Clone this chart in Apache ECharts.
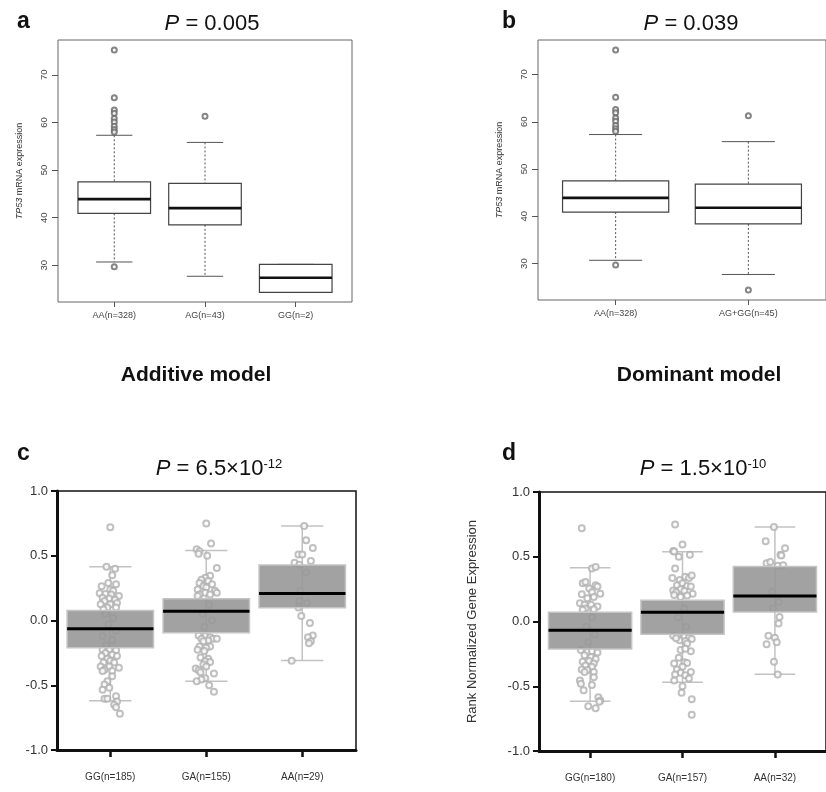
<!DOCTYPE html>
<html>
<head>
<meta charset="utf-8">
<script src="https://cdn.jsdelivr.net/npm/echarts@6/dist/echarts.min.js"></script>
<style>html,body{margin:0;background:#fff}#chart{width:826px;height:792px}</style>
</head>
<body>
<div id="chart"></div>
<script>
// a / b : TP53 mRNA expression, R style boxplots
var catsA = ['AA(n=328)', 'AG(n=43)', 'GG(n=2)'];
var catsB = ['AA(n=328)', 'AG+GG(n=45)'];
// low whisker, Q1, median, Q3, high whisker
var boxesA = [[30.7, 40.9, 43.9, 47.5, 57.3], [27.7, 38.5, 42.0, 47.2, 55.8], [24.3, 24.3, 27.4, 30.2, 30.2]];
var boxesB = [[30.7, 40.9, 43.9, 47.5, 57.3], [27.7, 38.4, 41.8, 46.8, 55.8]];
var outliersA = [[75.2, 65.2, 62.6, 61.9, 60.8, 60.1, 59.2, 58.5, 58.0, 29.7], [61.3], []];
var outliersB = [[75.2, 65.2, 62.6, 61.9, 60.8, 60.1, 59.2, 58.5, 58.0, 29.7], [61.3, 24.4]];
var ticksAB = [30, 40, 50, 60, 70];

// c / d : rank normalized expression, box + jittered points
var catsC = ['GG(n=185)', 'GA(n=155)', 'AA(n=29)'];
var catsD = ['GG(n=180)', 'GA(n=157)', 'AA(n=32)'];
var boxesC = [[-0.619, -0.211, -0.064, 0.077, 0.415], [-0.469, -0.095, 0.072, 0.168, 0.541], [-0.309, 0.098, 0.209, 0.428, 0.73]];
var boxesD = [[-0.616, -0.212, -0.067, 0.072, 0.415], [-0.47, -0.098, 0.072, 0.165, 0.539], [-0.408, 0.074, 0.196, 0.425, 0.73]];
// [jitter from group centre, value]
var pointsC = [
	[[0, 0.72], [-0.04, 0.415], [0.05, 0.40], [0.02, 0.35], [-0.02, 0.29], [0.06, 0.28], [-0.09, 0.265], [0, 0.24], [0.03, 0.23], [-0.11, 0.21], [-0.05, 0.205], [0.01, 0.20], [0.09, 0.19], [-0.08, 0.175], [-0.01, 0.17], [0.05, 0.16], [-0.06, 0.15], [0.07, 0.135], [-0.1, 0.125], [0, 0.125], [-0.03, 0.10], [0.06, 0.10], [-0.07, 0.085],
	 [-0.05, 0.05], [0.03, 0.02], [-0.02, -0.03], [0.06, -0.08], [-0.08, -0.12], [0.02, -0.15], [-0.04, -0.19],
	 [-0.08, -0.225], [-0.01, -0.225], [0.06, -0.23], [-0.05, -0.25], [0.02, -0.265], [-0.09, -0.275], [0.07, -0.275], [-0.03, -0.295], [0, -0.31], [-0.07, -0.325], [0.04, -0.325], [-0.1, -0.355], [-0.01, -0.355], [0.09, -0.365], [-0.06, -0.38], [0.02, -0.39], [-0.08, -0.39], [0.02, -0.43], [-0.03, -0.47], [-0.06, -0.495], [-0.01, -0.52], [-0.08, -0.535], [0.06, -0.585], [-0.06, -0.605], [-0.03, -0.605], [0.07, -0.625], [0.04, -0.65], [0.06, -0.67], [0.1, -0.72]],
	[[0, 0.75], [0.05, 0.595], [-0.1, 0.55], [-0.07, 0.535], [-0.08, 0.515], [0.01, 0.50], [0.11, 0.405], [0.04, 0.345], [-0.01, 0.33], [-0.05, 0.315], [0.02, 0.305], [-0.07, 0.29], [0.06, 0.28], [-0.03, 0.265], [0, 0.255], [-0.09, 0.24], [0.09, 0.23], [-0.01, 0.215], [0.11, 0.215], [0.04, 0.20], [-0.07, 0.20], [-0.09, 0.19],
	 [0.03, 0.12], [-0.04, 0.05], [0.06, 0], [-0.02, -0.05],
	 [-0.08, -0.115], [-0.01, -0.12], [0.04, -0.13], [-0.05, -0.14], [0.07, -0.14], [0.11, -0.14], [0.02, -0.155], [-0.03, -0.16], [-0.07, -0.2], [0.04, -0.2], [0, -0.21], [-0.09, -0.225], [-0.02, -0.235], [-0.06, -0.285], [0.02, -0.295], [-0.01, -0.315], [0.04, -0.32], [-0.03, -0.34], [0, -0.355], [-0.11, -0.37], [-0.08, -0.385], [-0.06, -0.40], [0.08, -0.41], [-0.01, -0.445], [-0.05, -0.455], [-0.1, -0.47], [0.03, -0.50], [0.08, -0.55]],
	[[0.02, 0.73], [0.04, 0.62], [0.11, 0.56], [-0.04, 0.51], [0, 0.51], [0.09, 0.46], [-0.08, 0.445], [-0.03, 0.43], [0.04, 0.37], [-0.02, 0.23], [-0.03, 0.15], [0.05, 0.135], [-0.04, 0.10], [-0.01, 0.035], [0.08, -0.02], [0.11, -0.115], [0.06, -0.13], [0.09, -0.16], [0.07, -0.175], [-0.11, -0.31]]
];
var pointsD = [
	[[-0.09, 0.72], [0.02, 0.41], [0.06, 0.42], [-0.08, 0.295], [-0.05, 0.305], [0.06, 0.28], [-0.01, 0.255], [0.08, 0.27], [0.02, 0.225], [0.11, 0.215], [-0.09, 0.21], [0.04, 0.19], [-0.03, 0.18], [-0.11, 0.14], [-0.06, 0.13], [0.01, 0.13], [0.08, 0.115], [-0.05, 0.10], [0.04, 0.095], [-0.08, 0.09],
	 [0.02, 0.03], [-0.04, -0.04], [0.05, -0.1], [-0.02, -0.16],
	 [-0.1, -0.22], [-0.03, -0.235], [0.02, -0.23], [0.08, -0.24], [-0.06, -0.26], [0.01, -0.275], [0.06, -0.29], [-0.08, -0.31], [-0.01, -0.305], [0.04, -0.325], [-0.05, -0.34], [0.02, -0.35], [-0.09, -0.37], [-0.03, -0.375], [0.04, -0.39], [-0.06, -0.39], [0.04, -0.43], [-0.11, -0.455], [-0.1, -0.48], [0.02, -0.49], [-0.07, -0.53], [0.09, -0.585], [0.11, -0.61], [0.1, -0.62], [-0.02, -0.655], [0.06, -0.67]],
	[[-0.08, 0.75], [0, 0.595], [-0.1, 0.545], [-0.09, 0.54], [-0.04, 0.50], [0.08, 0.515], [-0.08, 0.41], [-0.11, 0.335], [-0.03, 0.32], [0.03, 0.345], [0.07, 0.335], [0.1, 0.355], [-0.06, 0.28], [0, 0.295], [0.05, 0.275], [-0.1, 0.24], [-0.02, 0.25], [0.09, 0.27], [-0.07, 0.225], [0.02, 0.235], [0.11, 0.215], [-0.09, 0.205], [-0.02, 0.19], [0.05, 0.20],
	 [0.02, 0.1], [-0.05, 0.03], [0.04, -0.04],
	 [-0.1, -0.11], [-0.05, -0.12], [0.02, -0.12], [0.07, -0.125], [-0.03, -0.145], [0.03, -0.15], [-0.07, -0.13], [0.1, -0.135], [0.05, -0.17], [-0.02, -0.22], [0.09, -0.23], [0.03, -0.21], [-0.04, -0.28], [0.02, -0.315], [0.05, -0.32], [-0.09, -0.325], [0, -0.35], [-0.06, -0.37], [0.09, -0.39], [-0.02, -0.395], [-0.08, -0.41], [0.03, -0.415], [0.07, -0.44], [-0.09, -0.455], [0, -0.50], [-0.01, -0.55], [0.1, -0.60], [0.1, -0.72]],
	[[-0.01, 0.73], [-0.1, 0.62], [0.11, 0.565], [0.06, 0.515], [0.07, 0.51], [-0.09, 0.45], [-0.05, 0.46], [0.03, 0.43], [0.09, 0.435], [-0.03, 0.23], [0.04, 0.15], [-0.02, 0.1], [0.05, 0.035], [0.04, -0.015], [-0.07, -0.11], [0, -0.125], [0.02, -0.16], [-0.09, -0.175], [-0.01, -0.31], [0.03, -0.41]]
];
var ticksCD = [-1, -0.5, 0, 0.5, 1];

var FONT = 'Liberation Sans, Arial, sans-serif';

function boxRows(boxes) {
	return boxes.map(function (b, k) { return [k + 1].concat(b); });
}

function pick(api) {
	var x = api.value(0);
	var p = [];
	for (var i = 1; i <= 5; i++) p.push(api.coord([x, api.value(i)]));
	return p; // lo, q1, med, q3, hi
}

// R boxplot: dashed whiskers, white box, thick median
function renderR(params, api) {
	var p = pick(api);
	var cx = p[0][0];
	var hw = api.size([0.4, 0])[0], cw = api.size([0.2, 0])[0];
	var dash = {stroke: '#555', lineWidth: 1, lineDash: [2, 2]};
	var solid = {stroke: '#555', lineWidth: 1};
	return {type: 'group', children: [
		{type: 'line', shape: {x1: cx, y1: p[4][1], x2: cx, y2: p[3][1]}, style: dash},
		{type: 'line', shape: {x1: cx, y1: p[1][1], x2: cx, y2: p[0][1]}, style: dash},
		{type: 'line', shape: {x1: cx - cw, y1: p[4][1], x2: cx + cw, y2: p[4][1]}, style: solid},
		{type: 'line', shape: {x1: cx - cw, y1: p[0][1], x2: cx + cw, y2: p[0][1]}, style: solid},
		{type: 'rect', shape: {x: cx - hw, y: p[3][1], width: 2 * hw, height: p[1][1] - p[3][1]}, style: {fill: '#fff', stroke: '#444', lineWidth: 1.2}},
		{type: 'line', shape: {x1: cx - hw, y1: p[2][1], x2: cx + hw, y2: p[2][1]}, style: {stroke: '#111', lineWidth: 2.6}}
	]};
}

// GraphPad style: whisker line + caps (under the points)
function renderWhisk(params, api) {
	var p = pick(api);
	var cx = p[0][0];
	var cw = api.size([0.22, 0])[0];
	var st = {stroke: '#c2c2c2', lineWidth: 1.5};
	return {type: 'group', children: [
		{type: 'line', shape: {x1: cx, y1: p[4][1], x2: cx, y2: p[0][1]}, style: st},
		{type: 'line', shape: {x1: cx - cw, y1: p[4][1], x2: cx + cw, y2: p[4][1]}, style: st},
		{type: 'line', shape: {x1: cx - cw, y1: p[0][1], x2: cx + cw, y2: p[0][1]}, style: st}
	]};
}

// grey box and black median (over the points)
function renderGreyBox(params, api) {
	var p = pick(api);
	var cx = p[0][0];
	var hw = api.size([0.45, 0])[0];
	return {type: 'group', children: [
		{type: 'rect', shape: {x: cx - hw, y: p[3][1], width: 2 * hw, height: p[1][1] - p[3][1]}, style: {fill: 'rgba(152,152,152,0.9)', stroke: '#c4c4c4', lineWidth: 1.5}},
		{type: 'line', shape: {x1: cx - hw, y1: p[2][1], x2: cx + hw, y2: p[2][1]}, style: {stroke: '#000', lineWidth: 3}}
	]};
}

function outlierData(list) {
	var out = [];
	list.forEach(function (vals, k) {
		vals.forEach(function (v) { out.push([k + 1, v]); });
	});
	return out;
}

function jitterData(groups) {
	var out = [];
	groups.forEach(function (pts, k) {
		pts.forEach(function (p) { out.push([k + 1 + p[0], p[1]]); });
	});
	return out;
}

function xAxisR(i, cats, min, max) {
	var idx = cats.map(function (c, k) { return k + 1; });
	return {
		gridIndex: i, type: 'value', min: min, max: max,
		axisLine: {show: false},
		splitLine: {show: false},
		axisTick: {customValues: idx, length: 5, lineStyle: {color: '#555'}},
		axisLabel: {customValues: idx, fontSize: 9, color: '#444', margin: 9, fontFamily: FONT,
			formatter: function (v) { return cats[Math.round(v) - 1]; }}
	};
}

function yAxisR(i) {
	return {
		gridIndex: i, type: 'value', min: 22.3, max: 77.3,
		axisLine: {show: false},
		splitLine: {show: false},
		axisTick: {customValues: ticksAB, length: 6, lineStyle: {color: '#555'}},
		axisLabel: {customValues: ticksAB, rotate: 90, fontSize: 9.5, color: '#444', margin: 9, fontFamily: FONT},
		name: '{i|TP53} mRNA expression', nameLocation: 'middle', nameGap: 34,
		nameTextStyle: {fontSize: 9, color: '#333', fontFamily: FONT, rich: {i: {fontStyle: 'italic', fontSize: 9, color: '#333', fontFamily: FONT}}}
	};
}

function xAxisG(i, cats, min, max) {
	var idx = cats.map(function (c, k) { return k + 1; });
	return {
		gridIndex: i, type: 'value', min: min, max: max,
		axisLine: {show: true, onZero: false, lineStyle: {color: '#111', width: 3}},
		splitLine: {show: false},
		axisTick: {customValues: idx, length: 7, lineStyle: {color: '#111', width: 2.5}},
		axisLabel: {customValues: idx, fontSize: 10, color: '#333', margin: 22, fontFamily: FONT,
			formatter: function (v) { return cats[Math.round(v) - 1]; }}
	};
}

function yAxisG(i, withName) {
	var ax = {
		gridIndex: i, type: 'value', min: -1, max: 1, interval: 0.5,
		axisLine: {show: true, onZero: false, lineStyle: {color: '#111', width: 3}},
		splitLine: {show: false},
		axisTick: {show: true, length: 6, lineStyle: {color: '#111', width: 2}},
		axisLabel: {fontSize: 13, color: '#333', margin: 9, fontFamily: FONT,
			formatter: function (v) { return v.toFixed(1); }}
	};
	if (withName) {
		ax.name = 'Rank Normalized Gene Expression';
		ax.nameLocation = 'middle';
		ax.nameGap = 60;
		ax.nameTextStyle = {fontSize: 13, color: '#333', fontFamily: FONT};
	}
	return ax;
}

var pStyle = {fontSize: 22, fontWeight: 'normal', color: '#111', fontFamily: FONT,
	rich: {
		i: {fontStyle: 'italic', fontSize: 22, color: '#111', fontFamily: FONT},
		s: {fontSize: 13, color: '#111', verticalAlign: 'top', fontFamily: FONT}
	}};
var letter = {fontSize: 23, fontWeight: 'bold', color: '#111', fontFamily: FONT};
var model = {fontSize: 21, fontWeight: 'bold', color: '#111', fontFamily: FONT};

var myChart = echarts.init(document.getElementById('chart'));
var option = {
	animation: false,
	backgroundColor: '#fff',
	textStyle: {fontFamily: FONT},
	title: [
		{text: 'a', left: 12, top: 5, textStyle: letter},
		{text: 'b', left: 497, top: 5, textStyle: letter},
		{text: 'c', left: 12, top: 437, textStyle: letter},
		{text: 'd', left: 497, top: 437, textStyle: letter},
		{text: '{i|P} = 0.005', left: 207, top: 8, textAlign: 'center', textStyle: pStyle},
		{text: '{i|P} = 0.039', left: 686, top: 8, textAlign: 'center', textStyle: pStyle},
		{text: '{i|P} = 6.5×10{s|-12}', left: 214, top: 453, textAlign: 'center', textStyle: pStyle},
		{text: '{i|P} = 1.5×10{s|-10}', left: 698, top: 453, textAlign: 'center', textStyle: pStyle},
		{text: 'Additive model', left: 191, top: 360, textAlign: 'center', textStyle: model},
		{text: 'Dominant model', left: 694, top: 360, textAlign: 'center', textStyle: model}
	],
	grid: [
		{left: 58, top: 40, width: 294, height: 262, show: true, borderColor: '#666', borderWidth: 1},
		{left: 538, top: 40, width: 293, height: 260, show: true, borderColor: '#666', borderWidth: 1},
		{left: 57, top: 491, width: 299, height: 259, show: true, borderColor: '#111', borderWidth: 1.5},
		{left: 539, top: 492, width: 300, height: 259, show: true, borderColor: '#111', borderWidth: 1.5}
	],
	xAxis: [
		xAxisR(0, catsA, 0.38, 3.62),
		xAxisR(1, catsB, 0.415, 2.585),
		xAxisG(2, catsC, 0.445, 3.56),
		xAxisG(3, catsD, 0.447, 3.553)
	],
	yAxis: [yAxisR(0), yAxisR(1), yAxisG(2, false), yAxisG(3, true)],
	series: [
		{type: 'custom', xAxisIndex: 0, yAxisIndex: 0, renderItem: renderR, data: boxRows(boxesA), encode: {x: 0, y: [1, 2, 3, 4, 5]}, z: 2},
		{type: 'custom', xAxisIndex: 1, yAxisIndex: 1, renderItem: renderR, data: boxRows(boxesB), encode: {x: 0, y: [1, 2, 3, 4, 5]}, z: 2},
		{type: 'scatter', xAxisIndex: 0, yAxisIndex: 0, data: outlierData(outliersA), symbol: 'emptyCircle', symbolSize: 5, itemStyle: {color: '#666', borderWidth: 0.8}, z: 3},
		{type: 'scatter', xAxisIndex: 1, yAxisIndex: 1, data: outlierData(outliersB), symbol: 'emptyCircle', symbolSize: 5, itemStyle: {color: '#666', borderWidth: 0.8}, z: 3},

		{type: 'custom', xAxisIndex: 2, yAxisIndex: 2, renderItem: renderWhisk, data: boxRows(boxesC), encode: {x: 0, y: [1, 2, 3, 4, 5]}, z: 1},
		{type: 'custom', xAxisIndex: 3, yAxisIndex: 3, renderItem: renderWhisk, data: boxRows(boxesD), encode: {x: 0, y: [1, 2, 3, 4, 5]}, z: 1},
		{type: 'scatter', xAxisIndex: 2, yAxisIndex: 2, data: jitterData(pointsC), symbol: 'emptyCircle', symbolSize: 6, itemStyle: {color: '#b0b0b0', borderWidth: 1}, z: 2},
		{type: 'scatter', xAxisIndex: 3, yAxisIndex: 3, data: jitterData(pointsD), symbol: 'emptyCircle', symbolSize: 6, itemStyle: {color: '#b0b0b0', borderWidth: 1}, z: 2},
		{type: 'custom', xAxisIndex: 2, yAxisIndex: 2, renderItem: renderGreyBox, data: boxRows(boxesC), encode: {x: 0, y: [1, 2, 3, 4, 5]}, z: 3},
		{type: 'custom', xAxisIndex: 3, yAxisIndex: 3, renderItem: renderGreyBox, data: boxRows(boxesD), encode: {x: 0, y: [1, 2, 3, 4, 5]}, z: 3}
	]
};
myChart.setOption(option);
</script>
</body>
</html>
